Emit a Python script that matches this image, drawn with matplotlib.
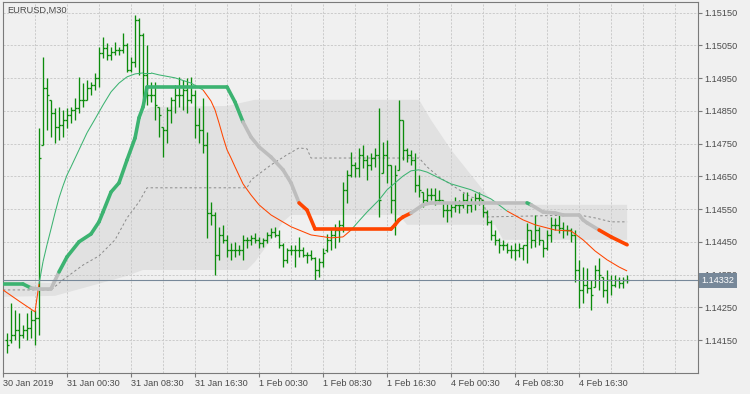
import matplotlib
matplotlib.use("Agg")
import matplotlib.pyplot as plt
from matplotlib.collections import LineCollection
from matplotlib.transforms import blended_transform_factory

plt.rcParams['font.family'] = ['Liberation Sans', 'DejaVu Sans']

# EURUSD M30 bars, 30 Jan 17:00 .. 4 Feb 18:30
opens = [
    1.14150, 1.14150, 1.14166, 1.14181, 1.14166, 1.14181, 1.14187, 1.14211, 1.14218, 1.14746,
    1.14920, 1.14884, 1.14844, 1.14801, 1.14807, 1.14822, 1.14838, 1.14853, 1.14859, 1.14884,
    1.14884, 1.14920, 1.14929, 1.14951, 1.15027, 1.15042, 1.15021, 1.15030, 1.15036, 1.15036,
    1.15052, 1.14975, 1.15000, 1.15128, 1.15082, 1.14960, 1.14899, 1.14899, 1.14862, 1.14801,
    1.14792, 1.14853, 1.14884, 1.14899, 1.14899, 1.14914, 1.14884, 1.14899, 1.14807, 1.14792,
    1.14746, 1.14538, 1.14532, 1.14410, 1.14471, 1.14456, 1.14425, 1.14425, 1.14425, 1.14425,
    1.14456, 1.14456, 1.14462, 1.14456, 1.14447, 1.14456, 1.14471, 1.14480, 1.14471, 1.14441,
    1.14395, 1.14425, 1.14425, 1.14425, 1.14425, 1.14410, 1.14410, 1.14401, 1.14364, 1.14389,
    1.14425, 1.14456, 1.14471, 1.14486, 1.14502, 1.14609, 1.14654, 1.14685, 1.14676, 1.14716,
    1.14700, 1.14685, 1.14706, 1.14716, 1.14660, 1.14716, 1.14685, 1.14578, 1.14670, 1.14822,
    1.14731, 1.14716, 1.14700, 1.14624, 1.14602, 1.14578, 1.14593, 1.14593, 1.14578, 1.14578,
    1.14547, 1.14547, 1.14557, 1.14563, 1.14563, 1.14578, 1.14563, 1.14569, 1.14584, 1.14578,
    1.14541, 1.14511, 1.14471, 1.14456, 1.14441, 1.14441, 1.14425, 1.14425, 1.14425, 1.14431,
    1.14441, 1.14486, 1.14456, 1.14486, 1.14456, 1.14431, 1.14471, 1.14502, 1.14502, 1.14492,
    1.14486, 1.14486, 1.14471, 1.14364, 1.14303, 1.14318, 1.14309, 1.14312, 1.14364, 1.14343,
    1.14303, 1.14334, 1.14318, 1.14334, 1.14324, 1.14334,
]
highs = [
    1.14172, 1.14263, 1.14242, 1.14233, 1.14196, 1.14233, 1.14242, 1.14242, 1.14798, 1.15015,
    1.14951, 1.14884, 1.14859, 1.14862, 1.14853, 1.14859, 1.14862, 1.14890, 1.14954, 1.14935,
    1.14945, 1.14939, 1.14966, 1.15045, 1.15076, 1.15058, 1.15045, 1.15061, 1.15045, 1.15088,
    1.15058, 1.15015, 1.15143, 1.15134, 1.15088, 1.15052, 1.14939, 1.14939, 1.14862, 1.14801,
    1.14862, 1.14893, 1.14929, 1.14954, 1.14945, 1.14951, 1.14954, 1.14914, 1.14859, 1.14890,
    1.14786, 1.14572, 1.14541, 1.14496, 1.14502, 1.14471, 1.14447, 1.14450, 1.14441, 1.14471,
    1.14465, 1.14471, 1.14477, 1.14465, 1.14462, 1.14480, 1.14492, 1.14496, 1.14486, 1.14447,
    1.14431, 1.14441, 1.14441, 1.14465, 1.14434, 1.14419, 1.14425, 1.14404, 1.14401, 1.14431,
    1.14474, 1.14489, 1.14505, 1.14517, 1.14633, 1.14670, 1.14725, 1.14694, 1.14737, 1.14746,
    1.14716, 1.14722, 1.14737, 1.14859, 1.14755, 1.14761, 1.14685, 1.14685, 1.14884, 1.14822,
    1.14737, 1.14731, 1.14722, 1.14654, 1.14602, 1.14615, 1.14615, 1.14615, 1.14609, 1.14578,
    1.14572, 1.14569, 1.14587, 1.14578, 1.14599, 1.14602, 1.14584, 1.14599, 1.14602, 1.14578,
    1.14547, 1.14517, 1.14486, 1.14462, 1.14456, 1.14447, 1.14441, 1.14447, 1.14447, 1.14441,
    1.14508, 1.14486, 1.14532, 1.14496, 1.14456, 1.14486, 1.14526, 1.14523, 1.14532, 1.14511,
    1.14502, 1.14492, 1.14486, 1.14395, 1.14373, 1.14370, 1.14334, 1.14379, 1.14401, 1.14343,
    1.14364, 1.14349, 1.14349, 1.14343, 1.14343, 1.14349,
]
lows = [
    1.14111, 1.14141, 1.14150, 1.14126, 1.14156, 1.14150, 1.14156, 1.14135, 1.14166, 1.14746,
    1.14792, 1.14770, 1.14752, 1.14761, 1.14770, 1.14798, 1.14813, 1.14822, 1.14844, 1.14862,
    1.14884, 1.14899, 1.14914, 1.14923, 1.15012, 1.15006, 1.15006, 1.15021, 1.15021, 1.15027,
    1.14969, 1.14969, 1.14984, 1.14960, 1.14884, 1.14868, 1.14877, 1.14822, 1.14770, 1.14709,
    1.14752, 1.14813, 1.14844, 1.14862, 1.14853, 1.14844, 1.14874, 1.14767, 1.14752, 1.14722,
    1.14462, 1.14502, 1.14349, 1.14395, 1.14447, 1.14404, 1.14395, 1.14404, 1.14410, 1.14395,
    1.14431, 1.14441, 1.14447, 1.14431, 1.14434, 1.14447, 1.14462, 1.14465, 1.14431, 1.14373,
    1.14386, 1.14410, 1.14373, 1.14404, 1.14404, 1.14386, 1.14395, 1.14334, 1.14343, 1.14373,
    1.14419, 1.14425, 1.14431, 1.14450, 1.14480, 1.14569, 1.14648, 1.14648, 1.14648, 1.14676,
    1.14639, 1.14670, 1.14679, 1.14526, 1.14660, 1.14630, 1.14538, 1.14471, 1.14670, 1.14700,
    1.14694, 1.14685, 1.14602, 1.14587, 1.14557, 1.14569, 1.14578, 1.14563, 1.14569, 1.14526,
    1.14511, 1.14526, 1.14541, 1.14538, 1.14554, 1.14538, 1.14541, 1.14547, 1.14563, 1.14526,
    1.14502, 1.14456, 1.14441, 1.14416, 1.14425, 1.14416, 1.14401, 1.14395, 1.14404, 1.14395,
    1.14386, 1.14431, 1.14434, 1.14441, 1.14404, 1.14425, 1.14450, 1.14486, 1.14477, 1.14462,
    1.14471, 1.14450, 1.14328, 1.14248, 1.14263, 1.14294, 1.14242, 1.14312, 1.14303, 1.14282,
    1.14263, 1.14288, 1.14312, 1.14309, 1.14309, 1.14324,
]
closes = [
    1.14135, 1.14166, 1.14181, 1.14166, 1.14181, 1.14187, 1.14211, 1.14218, 1.14706, 1.14920,
    1.14899, 1.14844, 1.14801, 1.14807, 1.14822, 1.14838, 1.14853, 1.14859, 1.14884, 1.14884,
    1.14920, 1.14929, 1.14951, 1.15027, 1.15042, 1.15021, 1.15030, 1.15036, 1.15036, 1.15052,
    1.14975, 1.15000, 1.15128, 1.15082, 1.14960, 1.14899, 1.14899, 1.14868, 1.14838, 1.14792,
    1.14853, 1.14884, 1.14899, 1.14899, 1.14914, 1.14884, 1.14899, 1.14807, 1.14792, 1.14746,
    1.14538, 1.14532, 1.14410, 1.14471, 1.14456, 1.14425, 1.14425, 1.14425, 1.14425, 1.14456,
    1.14456, 1.14462, 1.14456, 1.14447, 1.14456, 1.14471, 1.14480, 1.14471, 1.14441, 1.14395,
    1.14425, 1.14425, 1.14425, 1.14425, 1.14410, 1.14410, 1.14401, 1.14364, 1.14389, 1.14416,
    1.14456, 1.14471, 1.14486, 1.14502, 1.14609, 1.14654, 1.14685, 1.14676, 1.14716, 1.14700,
    1.14685, 1.14706, 1.14716, 1.14578, 1.14716, 1.14685, 1.14578, 1.14654, 1.14822, 1.14731,
    1.14716, 1.14700, 1.14624, 1.14609, 1.14578, 1.14593, 1.14593, 1.14578, 1.14578, 1.14547,
    1.14547, 1.14557, 1.14563, 1.14563, 1.14578, 1.14563, 1.14569, 1.14584, 1.14584, 1.14541,
    1.14511, 1.14471, 1.14456, 1.14441, 1.14441, 1.14425, 1.14425, 1.14425, 1.14431, 1.14441,
    1.14486, 1.14456, 1.14486, 1.14456, 1.14431, 1.14471, 1.14502, 1.14502, 1.14492, 1.14486,
    1.14486, 1.14471, 1.14364, 1.14303, 1.14318, 1.14309, 1.14288, 1.14364, 1.14349, 1.14303,
    1.14334, 1.14318, 1.14334, 1.14324, 1.14334, 1.14332,
]
last_price = 1.14332

# thin moving average (colour per segment ending at that point)
ma_idx = [-1, 3, 7, 8, 9, 10, 11, 12, 13, 14, 15, 16, 18, 20, 22, 24, 26, 28, 30, 32, 34, 36, 38, 42, 46,
          49, 51, 52, 53, 54, 55, 56, 57, 59, 61, 63, 66, 71, 76, 81, 84,
          86, 88, 90, 93, 95, 97, 99, 101, 103, 105, 108, 111, 116, 121,
          125, 129, 132, 137, 141, 144, 147, 150, 153, 155]
ma_val = [1.14303, 1.14269, 1.14236, 1.14321, 1.14389, 1.14441, 1.14489, 1.14538, 1.14584, 1.14621,
          1.14654, 1.14679, 1.14731, 1.14783, 1.14825, 1.14868, 1.14908, 1.14935, 1.14954, 1.14963,
          1.14966, 1.14966, 1.14960, 1.14951, 1.14935,
          1.14914, 1.14880, 1.14853, 1.14813, 1.14770, 1.14731, 1.14706, 1.14679, 1.14627, 1.14593,
          1.14563, 1.14532, 1.14496, 1.14471, 1.14462, 1.14465,
          1.14486, 1.14514, 1.14541, 1.14578, 1.14609, 1.14630, 1.14651, 1.14667, 1.14670, 1.14663,
          1.14645, 1.14627, 1.14609, 1.14581,
          1.14544, 1.14517, 1.14502, 1.14486, 1.14483, 1.14456, 1.14422, 1.14395, 1.14373, 1.14361]
ma_dir = ['dn'] * 3 + ['up'] * 22 + ['dn'] * 16 + ['up'] * 14 + ['dn'] * 10

# thick trend line
tl_idx = [-1, 4, 6, 8, 11, 13, 15, 18, 21, 23, 24, 26, 28, 30, 32, 33, 34, 35, 55, 57,
          59, 61, 63, 66, 69, 71, 73, 75, 77, 96, 97, 98, 99,
          101, 104, 106, 119, 130, 131, 134, 137, 139, 143, 144, 145, 148, 151, 155]
tl_val = [1.14321, 1.14321, 1.14309, 1.14306, 1.14306, 1.14358, 1.14404, 1.14450, 1.14474, 1.14511,
          1.14541, 1.14602, 1.14630, 1.14700, 1.14767, 1.14829, 1.14862, 1.14923, 1.14923, 1.14877,
          1.14816, 1.14770, 1.14740, 1.14709, 1.14670, 1.14630, 1.14569, 1.14547, 1.14489, 1.14489,
          1.14502, 1.14517, 1.14526,
          1.14538, 1.14563, 1.14569, 1.14569, 1.14569, 1.14563, 1.14541, 1.14538, 1.14532, 1.14532,
          1.14517, 1.14508, 1.14486, 1.14465, 1.14441]
tl_state = (['up'] * 2 + ['flat'] * 3 + ['up'] * 15 + ['flat'] * 6 + ['dn'] * 7
            + ['flat'] * 4 + ['up'] * 1 + ['flat'] * 7 + ['dn'] * 3)

# dashed middle line
mid_idx = [-1, 11, 14, 19, 23, 27, 30, 33, 35, 60, 61, 66, 70, 73, 75, 76, 103, 105, 108, 113,
           116, 119, 120, 143, 147, 151, 155]
mid_val = [1.14303, 1.14303, 1.14334, 1.14379, 1.14407, 1.14456, 1.14523, 1.14572, 1.14615, 1.14615,
           1.14639, 1.14685, 1.14716, 1.14737, 1.14734, 1.14706, 1.14706, 1.14679, 1.14648, 1.14609,
           1.14587, 1.14578, 1.14526, 1.14532, 1.14523, 1.14511, 1.14511]

# shaded band
band_top_idx = [-1, 11, 13, 15, 18, 21, 23, 24, 26, 28, 30, 32, 34, 36, 55, 62, 103, 106, 111, 117,
                121, 124, 155]
band_top_val = [1.14330, 1.14324, 1.14358, 1.14401, 1.14447, 1.14471, 1.14508, 1.14538, 1.14593, 1.14621,
                1.14685, 1.14755, 1.14847, 1.14862, 1.14865, 1.14884, 1.14884, 1.14822, 1.14731, 1.14639,
                1.14578, 1.14563, 1.14563]
band_bot_idx = [-1, 12, 20, 30, 34, 60, 62, 66, 69, 71, 98, 100, 122, 124, 155]
band_bot_val = [1.14282, 1.14285, 1.14312, 1.14346, 1.14364, 1.14364, 1.14389, 1.14456, 1.14511, 1.14532,
                1.14532, 1.14502, 1.14502, 1.14456, 1.14456]

tick_idx = [15, 31, 47, 63, 79, 95, 111, 127, 143]
tick_lbl = ['31 Jan 00:30', '31 Jan 08:30', '31 Jan 16:30', '1 Feb 00:30', '1 Feb 08:30',
            '1 Feb 16:30', '4 Feb 00:30', '4 Feb 08:30', '4 Feb 16:30']
first_lbl = '30 Jan 2019'
y_ticks = [1.14150, 1.14250, 1.14350, 1.14450, 1.14550, 1.14650, 1.14750, 1.14850, 1.14950,
           1.15050, 1.15150]

BG = '#F0F0F0'
GREEN = '#3CB371'
RED = '#FF4500'
SILVER = '#BDBDBD'
BAR = '#0C8C0C'
TXT = '#4A4A4A'
FRAME = '#7A7A7A'

fig = plt.figure(figsize=(7.5, 3.94), dpi=100, facecolor=BG)
ax = fig.add_axes([2.5 / 750, 21 / 394, 695 / 750, 371 / 394])
ax.set_facecolor(BG)
ax.set_xlim(-1.125, 172.6)
ax.set_ylim(1.140492, 1.151827)

# grid
ax.set_axisbelow(True)
for gx in range(7, 172, 8):
    ax.axvline(gx, color='#CBCBCB', lw=0.7, ls=(0, (2.2, 1.5)), zorder=0.5)
for gy in y_ticks:
    ax.axhline(gy, color='#CBCBCB', lw=0.7, ls=(0, (2.2, 1.5)), zorder=0.5)

# band
poly_x = band_top_idx + band_bot_idx[::-1]
poly_y = band_top_val + band_bot_val[::-1]
ax.fill(poly_x, poly_y, color='#E1E1E1', lw=0, zorder=0.3)

# dashed middle line
ax.plot(mid_idx, mid_val, color='#8A8A8A', lw=0.7, ls=(0, (2.5, 2.5)), zorder=2)

# bars
xs = list(range(len(highs)))
ax.vlines(xs, lows, highs, color=BAR, lw=0.95, zorder=3)
ax.hlines(opens, [x - 0.5 for x in xs], xs, color=BAR, lw=0.95, zorder=3)
ax.hlines(closes, xs, [x + 0.5 for x in xs], color=BAR, lw=0.95, zorder=3)

# thin MA
segs, cols = [], []
for k in range(1, len(ma_idx)):
    segs.append([(ma_idx[k - 1], ma_val[k - 1]), (ma_idx[k], ma_val[k])])
    cols.append(GREEN if ma_dir[k - 1] == 'up' else RED)
ax.add_collection(LineCollection(segs, colors=cols, linewidths=0.75, zorder=4))

# thick trend line
segs, cols = [], []
cmap = {'up': GREEN, 'dn': RED, 'flat': SILVER}
for k in range(1, len(tl_idx)):
    segs.append([(tl_idx[k - 1], tl_val[k - 1]), (tl_idx[k], tl_val[k])])
    cols.append(cmap[tl_state[k - 1]])
ax.add_collection(LineCollection(segs, colors=cols, linewidths=2.6, capstyle='round',
                                 joinstyle='round', zorder=5))

# price line
ax.axhline(last_price, color='#778899', lw=0.8, zorder=6)

# axes styling
for s in ax.spines.values():
    s.set_color(FRAME)
    s.set_linewidth(0.8)
ax.yaxis.tick_right()
ax.set_yticks(y_ticks)
ax.set_yticklabels(['%.5f' % v for v in y_ticks])
ax.set_xticks([-1.125] + tick_idx)
ax.set_xticklabels([first_lbl] + tick_lbl)
ax.tick_params(axis='both', colors=FRAME, labelcolor=TXT, labelsize=6.6, length=3, width=0.8,
               direction='out')
ax.tick_params(axis='y', pad=2)
ax.tick_params(axis='x', pad=1.5)
for lab in ax.get_xticklabels():
    lab.set_horizontalalignment('left')

# price label (covers most of the 1.14350 tick label, as in the terminal)
tr = blended_transform_factory(ax.transAxes, ax.transData)
ax.text(1.0 + 4 / 695, last_price, '%.5f' % last_price, transform=tr, ha='left', va='center',
        fontsize=6.6, color='white', zorder=10, clip_on=False,
        bbox=dict(boxstyle='square,pad=0.3', fc='#778899', ec='none'))

ax.text(5 / 695, 1 - 4 / 371, 'EURUSD,M30', transform=ax.transAxes, ha='left', va='top',
        fontsize=6.7, color=TXT, zorder=10)

fig.savefig('out.png', dpi=100, facecolor=BG)
